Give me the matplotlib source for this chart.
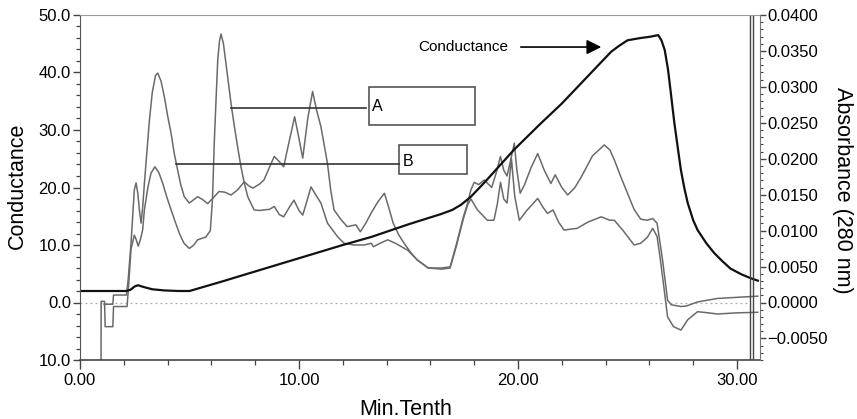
import matplotlib
matplotlib.use("Agg")
import matplotlib.pyplot as plt
from matplotlib.patches import Rectangle
from matplotlib.ticker import MultipleLocator, FixedLocator, FixedFormatter

plt.rcParams['font.family'] = ['Liberation Sans', 'DejaVu Sans']

# ---------------- data ----------------
cond_t = [0.0, 2.1, 2.3, 2.5, 2.65, 2.9, 3.3, 3.85, 4.5, 5.0, 6.44, 8.0, 10.0, 12.0, 13.3,
          15.0, 16.5, 17.0, 17.4, 17.85, 18.5, 19.8, 21.0, 22.0, 23.0, 23.8, 24.25, 24.6,
          25.0, 25.6, 26.0, 26.4, 26.55, 26.7, 26.85, 26.98, 27.14, 27.3, 27.44, 27.6,
          27.75, 28.0, 28.2, 28.6, 28.96, 29.3, 29.7, 30.2, 30.64, 30.95]
cond_v = [2.0, 2.0, 2.2, 2.8, 3.0, 2.7, 2.3, 2.1, 2.0, 2.0, 3.6, 5.4, 7.7, 10.0, 11.4,
          13.6, 15.4, 16.1, 17.0, 18.4, 21.0, 26.5, 31.0, 34.6, 38.6, 41.8, 43.6, 44.6,
          45.6, 46.0, 46.2, 46.5, 45.6, 43.9, 40.5, 36.4, 31.2, 26.8, 23.0, 19.8,
          17.3, 14.3, 12.6, 10.3, 8.6, 7.3, 5.9, 4.9, 4.2, 3.8]

absB_t = [1.10, 1.50, 1.53, 2.12, 2.20, 2.33, 2.48, 2.56, 2.64, 2.71, 2.79, 2.86, 2.94, 3.05,
          3.17, 3.30, 3.45, 3.55, 3.70, 3.85, 4.00, 4.16, 4.30, 4.46, 4.60, 4.76, 4.99, 5.20,
          5.37, 5.60, 5.83, 6.13, 6.35, 6.60, 6.90, 7.20, 7.50, 7.70, 7.90, 8.20, 8.40, 8.65,
          8.87, 9.10, 9.30, 9.55, 9.80, 10.00, 10.17, 10.40, 10.62, 10.80, 11.00, 11.30,
          11.45, 11.60, 11.90, 12.20, 12.60, 12.80, 13.05, 13.30, 13.60, 13.90, 14.10, 14.30,
          14.55, 14.80, 15.10, 15.40, 15.90, 16.50, 16.90, 17.20, 17.50, 17.70, 17.85, 18.00,
          18.20, 18.46, 18.80, 19.00, 19.20, 19.35, 19.50, 19.65, 19.83, 19.95, 20.10, 20.30,
          20.60, 20.90, 21.20, 21.50, 21.70, 22.00, 22.27, 22.60, 22.90, 23.40, 23.94, 24.20,
          24.40, 24.70, 25.00, 25.30, 25.60, 25.90, 26.15, 26.35, 26.50, 26.60, 26.83, 27.00,
          27.44, 27.70, 28.20, 29.10, 30.00, 30.95]
absB_v = [-0.3, -0.3, 1.3, 1.3, 4.0, 10.3, 19.6, 20.8, 19.0, 16.1, 13.8, 16.5, 20.7, 26.0,
          31.7, 36.5, 39.5, 39.9, 38.5, 35.8, 32.5, 29.4, 26.0, 23.0, 20.5, 18.4, 17.3, 17.9,
          18.4, 17.9, 17.2, 18.4, 19.3, 19.2, 18.7, 19.6, 21.0, 20.3, 19.9, 20.6, 21.3, 23.5,
          25.4, 24.5, 23.6, 28.0, 32.3, 28.5, 25.1, 32.0, 36.7, 33.5, 30.6, 24.2,
          19.5, 16.1, 14.5, 13.2, 13.5, 12.3, 13.8, 15.6, 17.5, 19.0, 16.5, 13.8,
          11.8, 10.3, 8.7, 7.4, 6.0, 6.0, 6.2, 10.3, 14.8, 17.3, 19.6, 20.9,
          20.5, 21.3, 20.0, 22.5, 25.4, 23.0, 22.0, 24.5, 27.7, 23.0, 19.0, 20.5,
          23.5, 25.9, 23.0, 20.7, 22.2, 20.0, 18.7, 20.0, 21.9, 25.5, 27.4, 26.5,
          24.8, 21.8, 19.0, 16.2, 14.5, 14.3, 14.6, 13.8, 10.0, 7.4, 0.4, -0.4,
          -0.7, -0.6, 0.1, 0.7, 0.9, 1.1]

absA_t = [0.96, 0.965, 1.12, 1.15, 1.50, 1.53, 2.15, 2.22, 2.33, 2.48, 2.56, 2.66, 2.76, 2.86,
          2.94, 3.10, 3.24, 3.42, 3.60, 3.78, 3.95, 4.16, 4.35, 4.54, 4.75, 4.99, 5.20, 5.37,
          5.75, 5.95, 6.05, 6.13, 6.22, 6.29, 6.37, 6.44, 6.55, 6.74, 6.90, 7.05, 7.20, 7.35,
          7.50, 7.66, 7.95, 8.20, 8.40, 8.65, 8.87, 9.10, 9.30, 9.55, 9.77, 10.00, 10.17,
          10.35, 10.55, 10.80, 11.00, 11.30, 11.77, 12.06, 12.50, 12.97, 13.30, 13.40, 13.70,
          14.05, 14.40, 14.96, 15.40, 15.90, 16.50, 16.90, 17.20, 17.50, 17.70, 17.85, 18.15,
          18.60, 18.90, 19.05, 19.20, 19.35, 19.50, 19.70, 19.85, 20.06, 20.40, 20.90, 21.15,
          21.35, 21.60, 21.85, 22.10, 22.70, 23.20, 23.60, 23.80, 24.20, 24.40, 24.80, 25.30,
          25.60, 25.90, 26.15, 26.35, 26.50, 26.60, 26.83, 27.10, 27.44, 27.75, 28.20, 28.70,
          29.10, 30.00, 30.95]
absA_v = [-12.0, 0.2, 0.2, -4.2, -4.2, -0.7, -0.7, 3.0, 9.3, 11.7, 11.0, 9.8, 11.0, 12.6,
          16.1, 20.0, 22.5, 23.6, 22.6, 20.7, 18.5, 16.1, 14.0, 12.0, 10.3, 9.4, 10.0, 10.9,
          11.4, 12.5, 18.0, 27.7, 36.0, 42.2, 45.5, 46.7, 45.0, 39.3, 34.5, 30.6, 27.0, 23.6,
          20.8, 18.4, 16.1, 16.0, 16.1, 16.2, 16.7, 15.3, 14.9, 16.5, 17.8, 16.0, 15.2,
          17.5, 20.1, 18.5, 17.3, 13.8, 11.4, 10.3, 10.0, 10.0, 10.3, 9.7, 10.3,
          10.9, 10.3, 9.1, 7.4, 6.0, 5.8, 6.0, 10.0, 14.5, 17.0, 18.0, 16.1,
          14.3, 14.3, 17.0, 20.9, 18.0, 17.3, 25.0, 18.5, 14.3, 16.0, 18.1, 16.5,
          15.5, 16.1, 14.0, 12.6, 12.9, 14.0, 14.6, 14.9, 14.3, 14.3, 12.5, 10.0,
          10.3, 11.3, 12.9, 11.5, 7.5, 4.5, -2.5, -4.2, -4.8, -3.0, -1.6, -1.8,
          -2.0, -1.8, -1.7]

left_ticks = [-10, 0, 10, 20, 30, 40, 50]
left_labels = ["10.0", "0.0", "10.0", "20.0", "30.0", "40.0", "50.0"]
x_ticks = [0, 10, 20, 30]
x_labels = ["0.00", "10.00", "20.00", "30.00"]
right_ticks = [-0.005, 0.0, 0.005, 0.010, 0.015, 0.020, 0.025, 0.030, 0.035, 0.040]
right_labels = ["\u22120.0050", "0.0000", "0.0050", "0.0100", "0.0150", "0.0200",
                "0.0250", "0.0300", "0.0350", "0.0400"]

# ---------------- figure ----------------
fig = plt.figure(figsize=(8.57, 4.19), dpi=100)
ax = fig.add_axes([80/857, 1 - 360/419, 680/857, 345/419])
ax.set_xlim(0, 31.05)
ax.set_ylim(-10, 50)

gray = '#6a6a6a'
ax.axhline(0, xmin=0, xmax=30.6/31.05, color='#aaaaaa', lw=0.9, ls=(0, (1.5, 2.5)))
ax.plot(absB_t, absB_v, color=gray, lw=1.1)
ax.plot(absA_t, absA_v, color=gray, lw=1.1)
ax.plot(cond_t, cond_v, color='#111111', lw=1.6)

# double vertical line near right end
ax.axvline(30.61, color='#444444', lw=1.0)
ax.axvline(30.72, color='#444444', lw=1.0)

# annotations
ax.plot([6.89, 13.06], [33.83, 33.83], color='#333333', lw=1.2)
ax.plot([4.38, 14.57], [24.09, 24.09], color='#333333', lw=1.2)
ax.add_patch(Rectangle((13.2, 30.87), 4.84, 6.61, fill=False, ec='#555555', lw=1.2))
ax.add_patch(Rectangle((14.57, 22.35), 3.10, 5.04, fill=False, ec='#555555', lw=1.2))
ax.text(13.35, 34.1, "A", fontsize=11.5, ha='left', va='center')
ax.text(14.72, 24.5, "B", fontsize=11.5, ha='left', va='center')
ax.text(15.45, 44.43, "Conductance", fontsize=11, ha='left', va='center')
ax.annotate('', xy=(23.93, 44.43), xytext=(20.0, 44.43),
            arrowprops=dict(arrowstyle='-|>', color='black', lw=1.2, mutation_scale=22))

# axes styling
ax.xaxis.set_major_locator(FixedLocator(x_ticks))
ax.xaxis.set_major_formatter(FixedFormatter(x_labels))
ax.xaxis.set_minor_locator(MultipleLocator(2))
ax.yaxis.set_major_locator(FixedLocator(left_ticks))
ax.yaxis.set_major_formatter(FixedFormatter(left_labels))
ax.yaxis.set_minor_locator(MultipleLocator(2))
ax.tick_params(axis='x', which='major', direction='out', length=6.5, width=1.0,
               labelsize=12, color='#444444', pad=3)
ax.tick_params(axis='x', which='minor', direction='out', length=3.6, width=0.9,
               color='#444444')
ax.tick_params(axis='y', which='major', direction='out', length=5, width=1.0,
               labelsize=12, color='#444444', pad=1.5)
ax.tick_params(axis='y', which='minor', direction='out', length=3, width=0.9,
               color='#444444')
ax.spines['top'].set_color('#999999')
ax.spines['left'].set_color('#555555')
ax.spines['bottom'].set_color('#444444')
ax.spines['bottom'].set_linewidth(1.2)
ax.spines['right'].set_visible(False)

ax.set_xlabel("Min.Tenth", fontsize=15.5)
ax.xaxis.label.set_va('center')
ax.xaxis.set_label_coords((406 - 80) / 680, (360 - 409) / 345)
ax.set_ylabel("Conductance", fontsize=15.5)
ax.yaxis.label.set_va('center')
ax.yaxis.set_label_coords((17 - 80) / 680, (360 - 186) / 345)

ax2 = ax.twinx()
ax2.set_ylim(-0.008, 0.04)
ax2.yaxis.set_major_locator(FixedLocator(right_ticks))
ax2.yaxis.set_major_formatter(FixedFormatter(right_labels))
ax2.yaxis.set_minor_locator(MultipleLocator(0.001))
ax2.tick_params(axis='y', which='major', direction='out', length=4.3, width=1.0,
                labelsize=12, color='#444444', pad=0.8)
ax2.tick_params(axis='y', which='minor', direction='out', length=2.2, width=0.8,
                color='#444444')
for s in ['top', 'left', 'bottom']:
    ax2.spines[s].set_visible(False)
ax2.spines['right'].set_color('#777777')
ax2.set_ylabel("Absorbance (280 nm)", fontsize=15.5, rotation=270)
ax2.yaxis.label.set_va('center')
ax2.yaxis.set_label_coords((843 - 80) / 680, (360 - 190) / 345)

fig.savefig("out.png", dpi=100)
